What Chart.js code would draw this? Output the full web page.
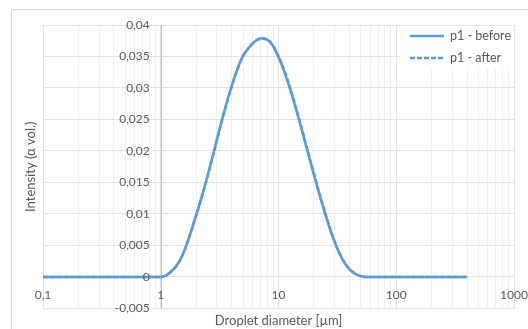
<!DOCTYPE html>
<html>
<head>
<meta charset="utf-8">
<script src="https://cdn.jsdelivr.net/npm/chart.js@4.4.1/dist/chart.umd.min.js"></script>
<style>
  html, body { margin: 0; padding: 0; background: #fff; }
  #wrap { position: relative; width: 528px; height: 329px; }
</style>
</head>
<body>
<div id="wrap"><canvas id="sizeChart" width="528" height="329"></canvas></div>
<script>
// droplet size classes (µm) and volume intensity
const diameters = [0.1, 0.2, 0.5, 0.8, 1.0, 1.1, 1.2, 1.35, 1.5, 1.65, 1.8, 2.0, 2.25, 2.5, 2.8,
  3.2, 3.6, 4.0, 4.5, 5.0, 5.6, 6.3, 7.1, 8.0, 9.0, 10.0, 11.2, 12.6, 14.1, 15.9,
  17.8, 20.0, 22.4, 25.2, 28.2, 31.7, 35.6, 40.0, 44.8, 50.2, 56.4, 100, 200, 400];

const p1Before = [0, 0, 0, 0, 0, 0.0002, 0.0007, 0.0017, 0.0031, 0.0050, 0.0071, 0.0098, 0.0130, 0.0161, 0.0196,
  0.0239, 0.0274, 0.0303, 0.0331, 0.0351, 0.0364, 0.0374, 0.0379, 0.0377, 0.0366, 0.0349, 0.0326, 0.0297, 0.0266, 0.0231,
  0.0197, 0.0162, 0.0129, 0.0097, 0.0069, 0.0044, 0.0025, 0.0012, 0.0005, 0.0001, 0, 0, 0, 0];

const p1After = [0, 0, 0, 0, 0, 0.0002, 0.0007, 0.0017, 0.0031, 0.0050, 0.0071, 0.0098, 0.0129, 0.0160, 0.0195,
  0.0238, 0.0273, 0.0302, 0.0331, 0.0351, 0.0364, 0.0374, 0.0378, 0.0377, 0.0367, 0.0350, 0.0328, 0.0299, 0.0268, 0.0233,
  0.0199, 0.0164, 0.0131, 0.0099, 0.0070, 0.0045, 0.0026, 0.0013, 0.0005, 0.0001, 0, 0, 0, 0];

const seriesLabels = ['p1 - before', 'p1 - after'];

const xTickValues = [0.1, 1, 10, 100, 1000];
const xTickLabels = ['0,1', '1', '10', '100', '1000'];

const yTickValues = [-0.005, 0, 0.005, 0.01, 0.015, 0.02, 0.025, 0.03, 0.035, 0.04];
const yTickLabels = ['-0,005', '0', '0,005', '0,01', '0,015', '0,02', '0,025', '0,03', '0,035', '0,04'];

const blue = '#5b9bd5';
const gridColor = '#e3e3e3';
const minorGridColor = '#f0f0f0';
const textColor = '#595959';
const fontFamily = 'Lato, "Open Sans", sans-serif';

// log grid: 1..9 in every decade
const xGrid = [];
for (let d = 0.1; d < 1000; d *= 10) {
  for (let k = 1; k < 10; k++) xGrid.push({ value: Math.round(k * d * 1000) / 1000, major: k === 1 });
}
xGrid.push({ value: 1000, major: true });

const excelLook = {
  id: 'excelLook',
  beforeDraw(chart) {
    const ctx = chart.ctx;
    ctx.save();
    ctx.strokeStyle = '#d9d9d9';
    ctx.lineWidth = 1;
    ctx.beginPath();
    ctx.moveTo(11.5, 340);
    ctx.lineTo(11.5, 9.5);
    ctx.lineTo(540, 9.5);
    ctx.stroke();
    ctx.restore();
  },
  beforeDatasetsDraw(chart) {
    // vertical axis crosses at x = 1
    const ctx = chart.ctx;
    const area = chart.chartArea;
    const x = Math.round(chart.scales.x.getPixelForValue(1)) + 0.5;
    ctx.save();
    ctx.strokeStyle = '#bfbfbf';
    ctx.lineWidth = 1;
    ctx.beginPath();
    ctx.moveTo(x, area.top);
    ctx.lineTo(x, area.bottom);
    ctx.stroke();
    ctx.restore();
  },
  afterDatasetsDraw(chart) {
    const ctx = chart.ctx;
    const xs = chart.scales.x;
    const ys = chart.scales.y;
    const axisX = xs.getPixelForValue(1);
    const axisY = ys.getPixelForValue(0);
    ctx.save();
    ctx.fillStyle = textColor;
    ctx.font = '12px ' + fontFamily;
    ctx.textBaseline = 'middle';
    ctx.textAlign = 'right';
    yTickValues.forEach((v, i) => {
      ctx.fillText(yTickLabels[i], axisX - 11, ys.getPixelForValue(v));
    });
    ctx.textAlign = 'center';
    xTickValues.forEach((v, i) => {
      ctx.fillText(xTickLabels[i], xs.getPixelForValue(v), axisY + 18);
    });
    ctx.restore();
  },
  afterDraw(chart) {
    // legend box in the top right corner of the plot
    const ctx = chart.ctx;
    const area = chart.chartArea;
    const left = area.right - 114;
    ctx.save();
    ctx.fillStyle = '#fff';
    ctx.fillRect(left, area.top + 1, 113, 43);
    ctx.font = '12.5px ' + fontFamily;
    ctx.textBaseline = 'middle';
    ctx.textAlign = 'left';
    chart.data.datasets.forEach((ds, i) => {
      const y = area.top + 11 + i * 22;
      ctx.strokeStyle = ds.borderColor;
      ctx.lineWidth = ds.borderWidth;
      ctx.setLineDash(ds.borderDash || []);
      ctx.beginPath();
      ctx.moveTo(left + 10, y);
      ctx.lineTo(left + 44, y);
      ctx.stroke();
      ctx.setLineDash([]);
      ctx.fillStyle = textColor;
      ctx.fillText(ds.label, left + 50, y);
    });
    ctx.restore();
  }
};

const chartData = {
  datasets: [
    {
      label: seriesLabels[0],
      data: diameters.map((d, i) => ({ x: d, y: p1Before[i] })),
      borderColor: blue,
      borderWidth: 2.5,
      pointRadius: 0,
      fill: false,
      cubicInterpolationMode: 'monotone',
      order: 2
    },
    {
      label: seriesLabels[1],
      data: diameters.map((d, i) => ({ x: d, y: p1After[i] })),
      borderColor: blue,
      borderWidth: 2.5,
      borderDash: [5, 2],
      pointRadius: 0,
      fill: false,
      cubicInterpolationMode: 'monotone',
      order: 1
    }
  ]
};

const config = {
  type: 'line',
  data: chartData,
  options: {
    responsive: false,
    animation: false,
    devicePixelRatio: 1,
    layout: { padding: { left: 19.4, right: 14, top: 25, bottom: 0 } },
    plugins: {
      legend: { display: false },
      tooltip: { enabled: false }
    },
    scales: {
      x: {
        type: 'logarithmic',
        min: 0.1,
        max: 1000,
        afterBuildTicks: axis => { axis.ticks = xGrid.map(t => ({ value: t.value, major: t.major })); },
        ticks: { display: false },
        grid: {
          color: c => (c.tick && c.tick.major ? gridColor : minorGridColor),
          drawTicks: false
        },
        border: { color: gridColor },
        title: {
          display: true,
          text: 'Droplet diameter [µm]',
          color: textColor,
          font: { family: fontFamily, size: 13 },
          padding: { top: 5, bottom: 0 }
        }
      },
      y: {
        type: 'linear',
        min: -0.005,
        max: 0.04,
        ticks: { display: false, stepSize: 0.005 },
        grid: { color: gridColor, drawTicks: false },
        border: { color: gridColor },
        title: {
          display: true,
          text: 'Intensity (α vol.)',
          color: textColor,
          font: { family: fontFamily, size: 13 },
          padding: { top: 4, bottom: 4 }
        }
      }
    }
  },
  plugins: [excelLook]
};

try {
  new Chart(document.getElementById('sizeChart'), config);
} catch (error) {
  console.error('Error rendering the chart:', error);
}
</script>
</body>
</html>
